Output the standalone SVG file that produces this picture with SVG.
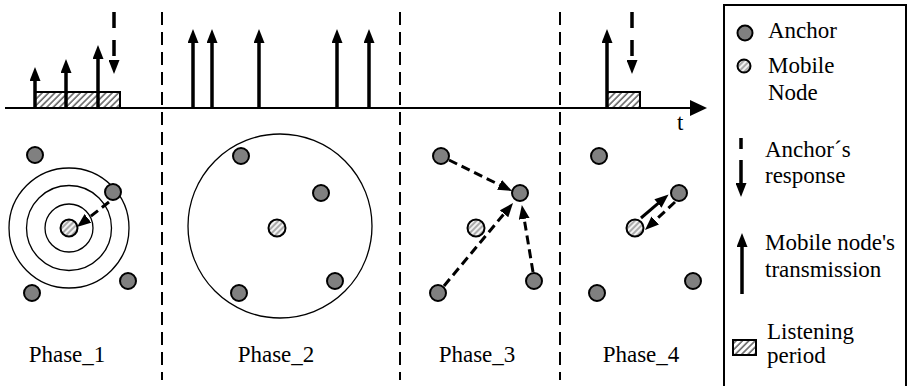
<svg xmlns="http://www.w3.org/2000/svg" width="909" height="386" viewBox="0 0 909 386">
<style>
text{font-family:'Liberation Serif','DejaVu Serif','Times New Roman',Times,serif;font-size:23px;fill:#000}
.sep{stroke:#000;stroke-width:2;stroke-dasharray:13 7;fill:none}
.tx{stroke:#000;stroke-width:3.5;fill:none;marker-end:url(#ah)}
.rx{stroke:#000;stroke-width:3.5;stroke-dasharray:16 12;fill:none;marker-end:url(#ah)}
.dl{stroke:#000;stroke-width:3;stroke-dasharray:9 5;fill:none;marker-end:url(#ah)}
.sl{stroke:#000;stroke-width:3;fill:none;marker-end:url(#ah)}
.anc{fill:#808080;stroke:#000;stroke-width:2}
.mob{fill:url(#hatchc);stroke:#000;stroke-width:2}
.ring{fill:none;stroke:#000;stroke-width:1.3}
.lp{fill:url(#hatch);stroke:#000;stroke-width:2}
</style>
<defs>
<marker id="ah" markerUnits="userSpaceOnUse" markerWidth="14" markerHeight="11" refX="1" refY="5.5" orient="auto" viewBox="0 0 14 11">
<path d="M0,0 L14,5.5 L0,11 z" fill="#000"/>
</marker>
<pattern id="hatch" patternUnits="userSpaceOnUse" width="4.5" height="4.5" patternTransform="rotate(45)">
<rect width="4.5" height="4.5" fill="#fff"/>
<line x1="1" y1="0" x2="1" y2="4.5" stroke="#666" stroke-width="1.6"/>
</pattern>
<pattern id="hatchc" patternUnits="userSpaceOnUse" width="4" height="4" patternTransform="rotate(45)">
<rect width="4" height="4" fill="#f2f2f2"/>
<line x1="1" y1="0" x2="1" y2="4" stroke="#999" stroke-width="1.6"/>
</pattern>
</defs>

<g id="separators">
<line class="sep" x1="162" y1="12" x2="162" y2="380"/>
<line class="sep" x1="400" y1="12" x2="400" y2="380"/>
<line class="sep" x1="560" y1="12" x2="560" y2="380"/>
</g>

<g id="listening-periods">
<rect class="lp" x="35" y="92" width="85" height="16"/>
<rect class="lp" x="607" y="92" width="33" height="16"/>
</g>

<g id="timeline">
<line x1="5" y1="108" x2="692" y2="108" stroke="#000" stroke-width="2"/>
<polygon points="690,100 707,108 690,116" fill="#000"/>
<text x="677" y="130" font-family="Liberation Serif, serif">t</text>
</g>

<g id="transmissions">
<line class="tx" x1="35" y1="108" x2="35" y2="80"/>
<line class="tx" x1="66" y1="108" x2="66" y2="72"/>
<line class="tx" x1="98" y1="108" x2="98" y2="58"/>
<line class="tx" x1="193" y1="108" x2="193" y2="42"/>
<line class="tx" x1="212" y1="108" x2="212" y2="42"/>
<line class="tx" x1="259" y1="108" x2="259" y2="42"/>
<line class="tx" x1="337" y1="108" x2="337" y2="42"/>
<line class="tx" x1="369" y1="108" x2="369" y2="42"/>
<line class="tx" x1="607" y1="108" x2="607" y2="42"/>
</g>

<g id="responses">
<line class="rx" x1="114" y1="12" x2="114" y2="61"/>
<line class="rx" x1="632" y1="12" x2="632" y2="61"/>
</g>

<g id="phase1">
<circle class="ring" cx="69" cy="228" r="60"/>
<circle class="ring" cx="69" cy="228" r="42.5"/>
<circle class="ring" cx="69" cy="228" r="24"/>
<circle class="anc" cx="35" cy="155" r="8"/>
<circle class="anc" cx="113" cy="192" r="8"/>
<circle class="anc" cx="32" cy="293" r="8"/>
<circle class="anc" cx="128" cy="281" r="8"/>
<circle class="mob" cx="69" cy="228" r="8.5"/>
<text x="67" y="362" text-anchor="middle">Phase_1</text>
</g>

<g id="phase2">
<circle class="ring" cx="280" cy="226" r="92"/>
<circle class="anc" cx="241" cy="156" r="8"/>
<circle class="anc" cx="321" cy="193" r="8"/>
<circle class="anc" cx="239" cy="293" r="8"/>
<circle class="anc" cx="335" cy="281" r="8"/>
<circle class="mob" cx="277" cy="228" r="8.5"/>
<text x="276" y="362" text-anchor="middle">Phase_2</text>
</g>

<g id="phase3">
<circle class="anc" cx="441" cy="156" r="8"/>
<circle class="anc" cx="520" cy="193" r="8"/>
<circle class="anc" cx="438" cy="293" r="8"/>
<circle class="anc" cx="534" cy="281" r="8"/>
<circle class="mob" cx="476" cy="228" r="8.5"/>
<text x="477" y="362" text-anchor="middle">Phase_3</text>
</g>

<g id="phase4">
<circle class="anc" cx="599" cy="156" r="8"/>
<circle class="anc" cx="679" cy="193" r="8"/>
<circle class="anc" cx="597" cy="293" r="8"/>
<circle class="anc" cx="693" cy="281" r="8"/>
<circle class="mob" cx="635" cy="228" r="8.5"/>
<text x="641" y="362" text-anchor="middle">Phase_4</text>
</g>

<g id="connectors">
<line class="dl" x1="109" y1="202" x2="87.2" y2="219"/>
<line class="dl" x1="449" y1="160" x2="500.4" y2="185.3"/>
<line class="dl" x1="444" y1="286" x2="504.7" y2="213"/>
<line class="dl" x1="533" y1="272" x2="524" y2="217.8"/>
<line class="sl" x1="641" y1="218" x2="658.7" y2="202.9"/>
<line class="dl" x1="675" y1="202" x2="654.5" y2="221.1"/>
</g>

<g id="legend">
<rect x="724" y="5" width="182" height="392" fill="none" stroke="#000" stroke-width="2"/>
<circle class="anc" cx="745" cy="33" r="7.5"/>
<text x="768" y="38">Anchor</text>
<circle class="mob" cx="744" cy="66" r="6.5"/>
<text x="768" y="73">Mobile</text>
<text x="768" y="100">Node</text>
<line x1="741" y1="138" x2="741" y2="184" stroke="#000" stroke-width="3.5" stroke-dasharray="11 11 24" marker-end="url(#ah)"/>
<text x="765" y="157">Anchor´s</text>
<text x="765" y="183">response</text>
<line x1="742" y1="294" x2="742" y2="246" stroke="#000" stroke-width="3.5" marker-end="url(#ah)"/>
<text x="765" y="250">Mobile node's</text>
<text x="765" y="277">transmission</text>
<rect class="lp" x="733" y="340" width="23" height="15"/>
<text x="767" y="339">Listening</text>
<text x="767" y="363">period</text>
</g>
</svg>
